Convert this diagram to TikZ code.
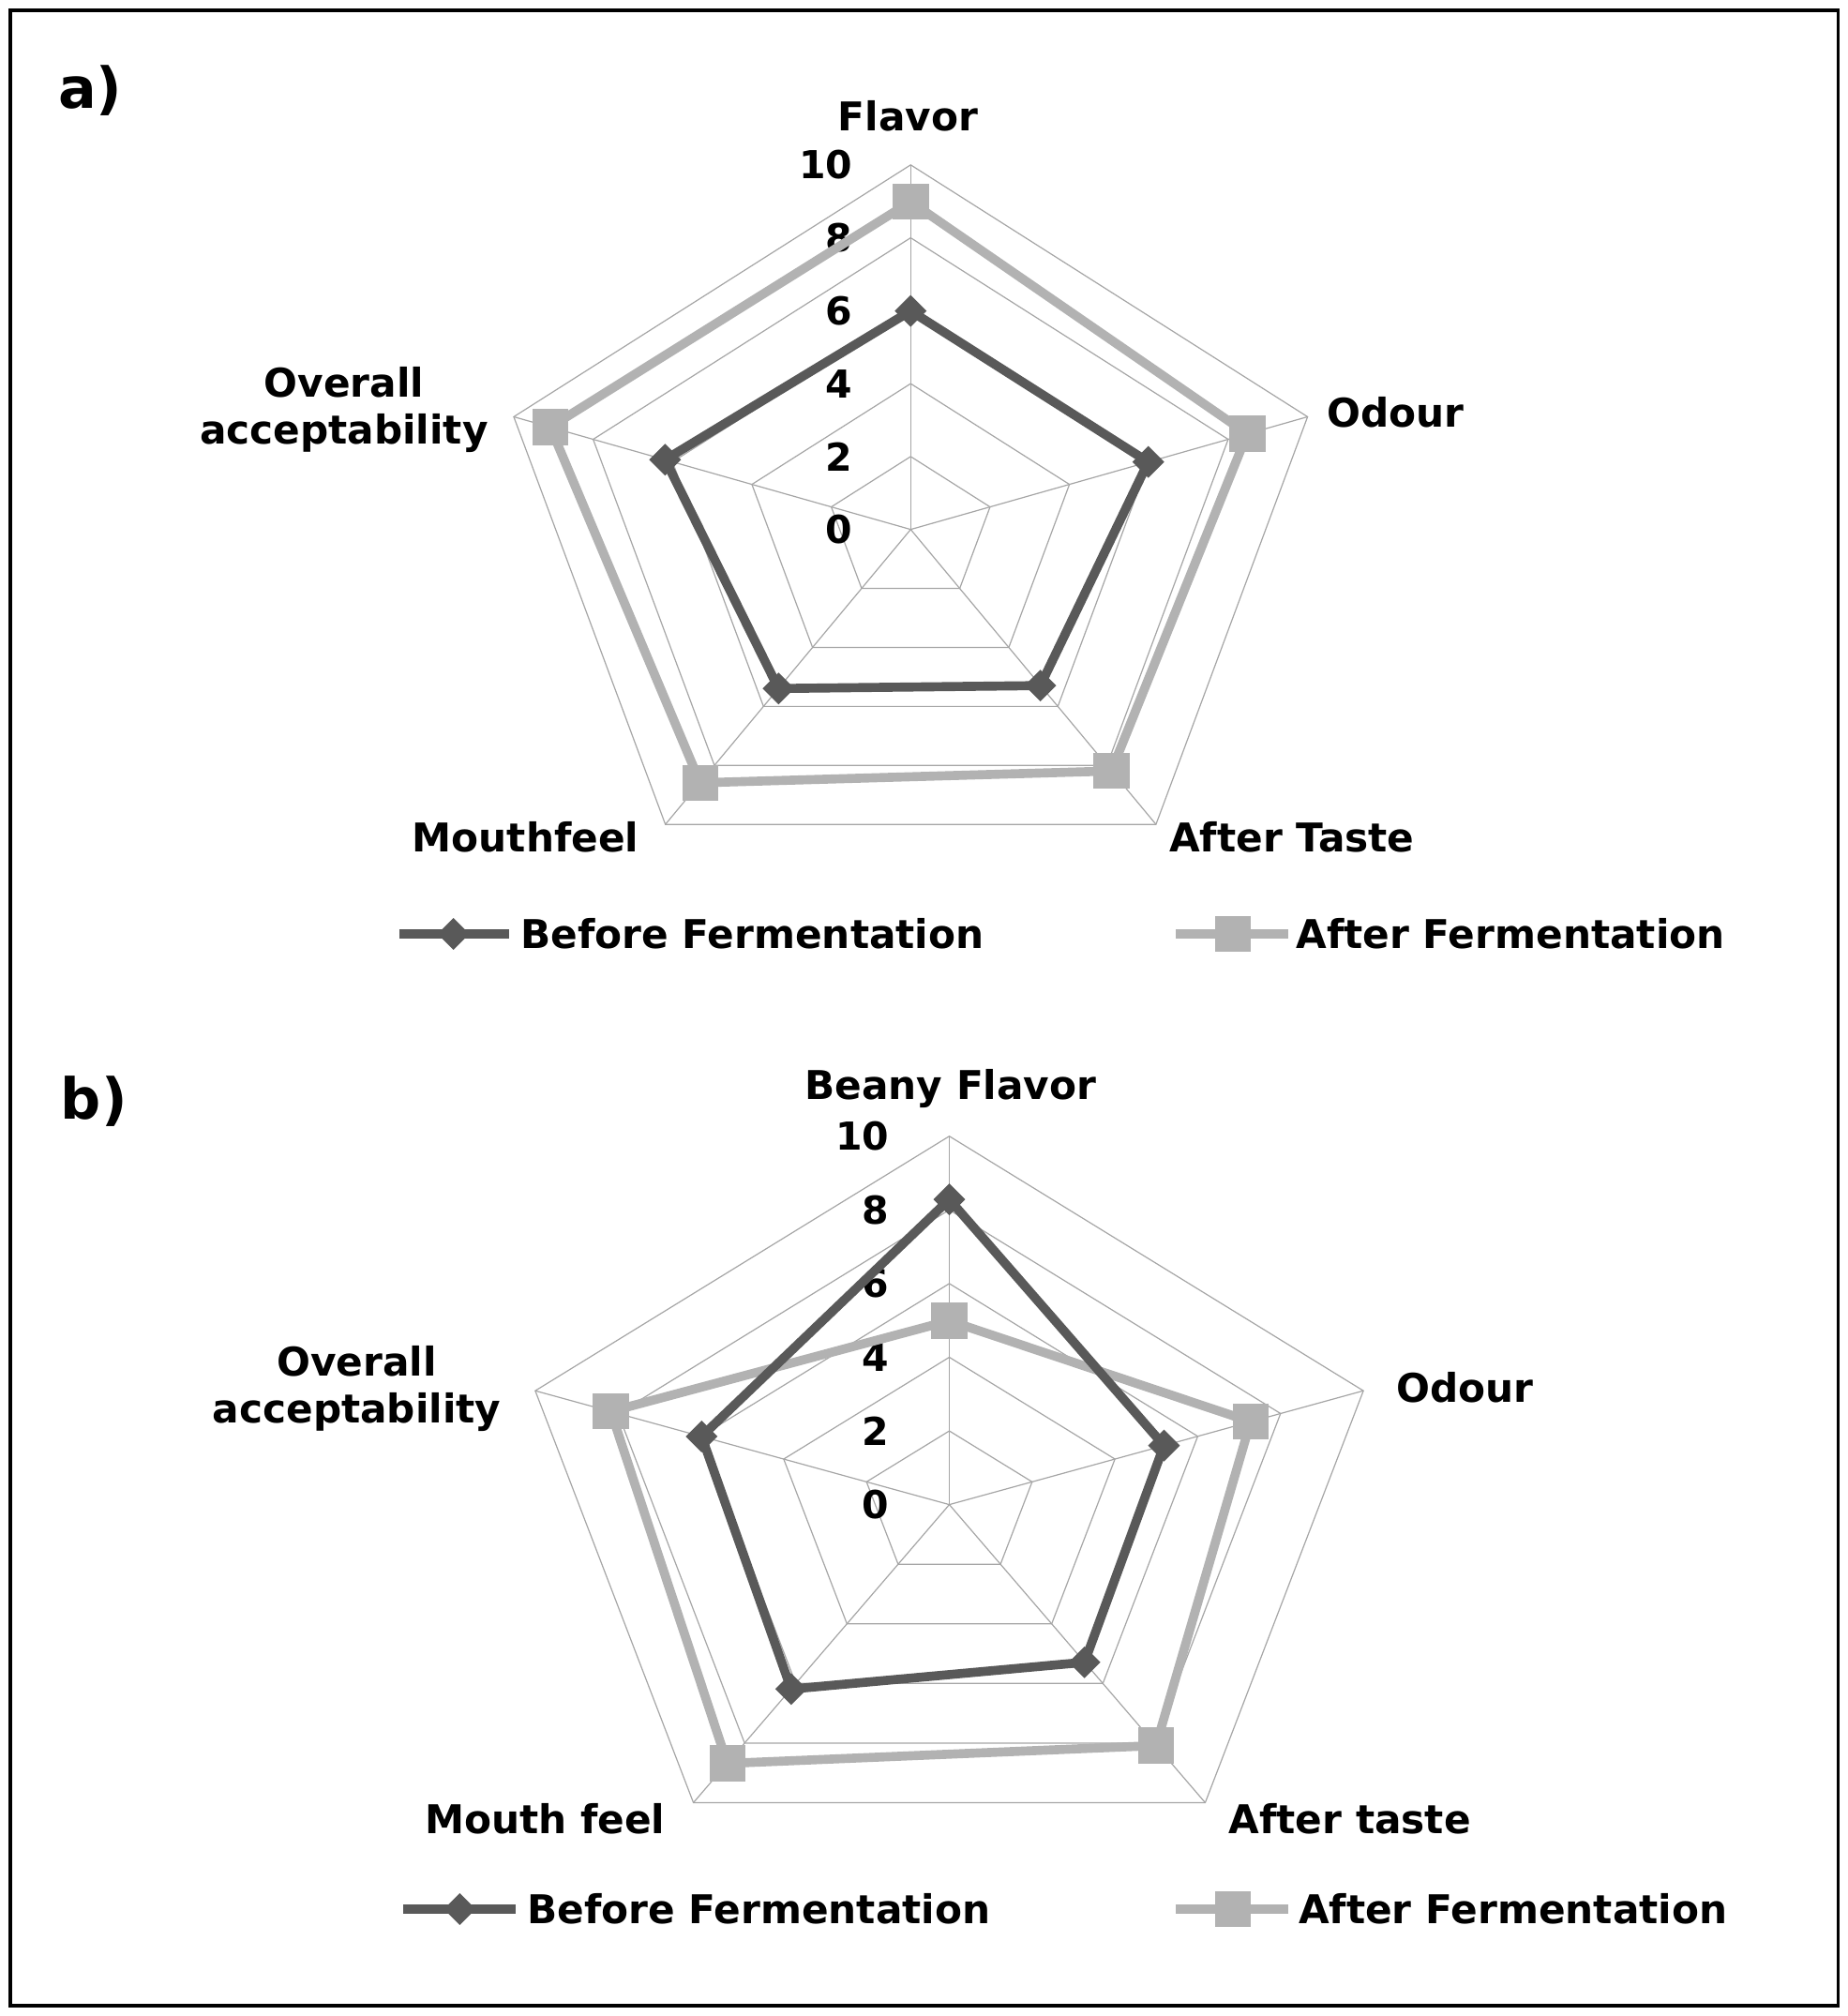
\documentclass[tikz,border=0pt]{standalone}
\usepackage{fontspec}
\setmainfont{DejaVu Sans}
\usetikzlibrary{shapes.geometric}

\begin{document}
\begin{tikzpicture}[x=0.02cm,y=0.02cm,
grid/.style={draw=gray!70,line width=0.5pt},
before/.style={draw=black!65,line width=4pt,line join=round},
after/.style={draw=black!30,line width=4pt,line join=round},
bmark/.style={diamond,fill=black!65,inner sep=0pt,minimum size=0.5cm},
amark/.style={rectangle,fill=black!30,inner sep=0pt,minimum size=0.56cm},
lab/.style={font=\fontsize{17.5}{21}\selectfont\bfseries,align=center},
tick/.style={font=\fontsize{17}{20}\selectfont\bfseries,anchor=east},
panel/.style={font=\fontsize{25}{29}\selectfont\bfseries}]

\useasboundingbox (0,0) rectangle (1434,-1565);
\draw[line width=1.5pt] (8,-8) rectangle (1427,-1557);

% panel a
\node[panel] (pa) at (70,-70) {a)};
\begin{scope}[shift={(707,-411)},xscale=32.4,yscale=28.3]
\foreach \r in {2,4,...,10}
  \draw[grid] (90:\r) -- (18:\r) -- (-54:\r) -- (-126:\r) -- (162:\r) -- cycle;
\foreach \a in {90,18,-54,-126,162}
  \draw[grid] (0,0) -- (\a:10);
\foreach \r in {0,2,...,10}
  \node[tick] (at\r) at (-1.2,\r) {\r};
\foreach \v/\a [count=\i] in {6/90,6/18,5.3/-54,5.4/-126,6.2/162}
  \coordinate (aB\i) at (\a:\v);
\foreach \v/\a [count=\i] in {9/90,8.5/18,8.2/-54,8.6/-126,9.1/162}
  \coordinate (aA\i) at (\a:\v);
\draw[after] (aA1) -- (aA2) -- (aA3) -- (aA4) -- (aA5) -- cycle;
\draw[before] (aB1) -- (aB2) -- (aB3) -- (aB4) -- (aB5) -- cycle;
\foreach \i in {1,...,5} {
  \node[amark] (aAm\i) at (aA\i) {};
  \node[bmark] (aBm\i) at (aB\i) {};
}
\end{scope}
\node[lab] (la1) at (705,-90) {Flavor};
\node[lab,anchor=west] (la2) at (1024,-320) {Odour};
\node[lab] (la3) at (1003,-650) {After Taste};
\node[lab] (la4) at (408,-650) {Mouthfeel};
\node[lab] (la5) at (267,-318) {Overall\\acceptability};
% legend a
\coordinate (lgaB1) at (310,-725);
\coordinate (lgaB2) at (395,-725);
\draw[before] (lgaB1) -- (lgaB2);
\node[bmark] (lgaBm) at (352,-725) {};
\node[lab,anchor=west] (lgaBt) at (398,-725) {Before Fermentation};
\coordinate (lgaA1) at (913,-725);
\coordinate (lgaA2) at (1000,-725);
\draw[after] (lgaA1) -- (lgaA2);
\node[amark] (lgaAm) at (957,-725) {};
\node[lab,anchor=west] (lgaAt) at (1000,-725) {After Fermentation};

% panel b
\node[panel] (pb) at (73,-855) {b)};
\begin{scope}[shift={(737,-1168)},xscale=33.8,yscale=28.6]
\foreach \r in {2,4,...,10}
  \draw[grid] (90:\r) -- (18:\r) -- (-54:\r) -- (-126:\r) -- (162:\r) -- cycle;
\foreach \a in {90,18,-54,-126,162}
  \draw[grid] (0,0) -- (\a:10);
\foreach \r in {0,2,...,10}
  \node[tick] (bt\r) at (-1.2,\r) {\r};
\foreach \v/\a [count=\i] in {8.3/90,5.2/18,5.3/-54,6.2/-126,6/162}
  \coordinate (bB\i) at (\a:\v);
\foreach \v/\a [count=\i] in {5/90,7.3/18,8.1/-54,8.7/-126,8.2/162}
  \coordinate (bA\i) at (\a:\v);
\draw[after] (bA1) -- (bA2) -- (bA3) -- (bA4) -- (bA5) -- cycle;
\draw[before] (bB1) -- (bB2) -- (bB3) -- (bB4) -- (bB5) -- cycle;
\foreach \i in {1,...,5} {
  \node[amark] (bAm\i) at (bA\i) {};
  \node[bmark] (bBm\i) at (bB\i) {};
}
\end{scope}
\node[lab] (lb1) at (738,-845) {Beany Flavor};
\node[lab,anchor=west] (lb2) at (1078,-1077) {Odour};
\node[lab] (lb3) at (1048,-1412) {After taste};
\node[lab] (lb4) at (423,-1412) {Mouth feel};
\node[lab] (lb5) at (277,-1078) {Overall\\acceptability};
% legend b
\coordinate (lgbB1) at (313,-1482);
\coordinate (lgbB2) at (400,-1482);
\draw[before] (lgbB1) -- (lgbB2);
\node[bmark] (lgbBm) at (357,-1482) {};
\node[lab,anchor=west] (lgbBt) at (403,-1482) {Before Fermentation};
\coordinate (lgbA1) at (913,-1482);
\coordinate (lgbA2) at (1000,-1482);
\draw[after] (lgbA1) -- (lgbA2);
\node[amark] (lgbAm) at (957,-1482) {};
\node[lab,anchor=west] (lgbAt) at (1002,-1482) {After Fermentation};
\end{tikzpicture}
\end{document}
